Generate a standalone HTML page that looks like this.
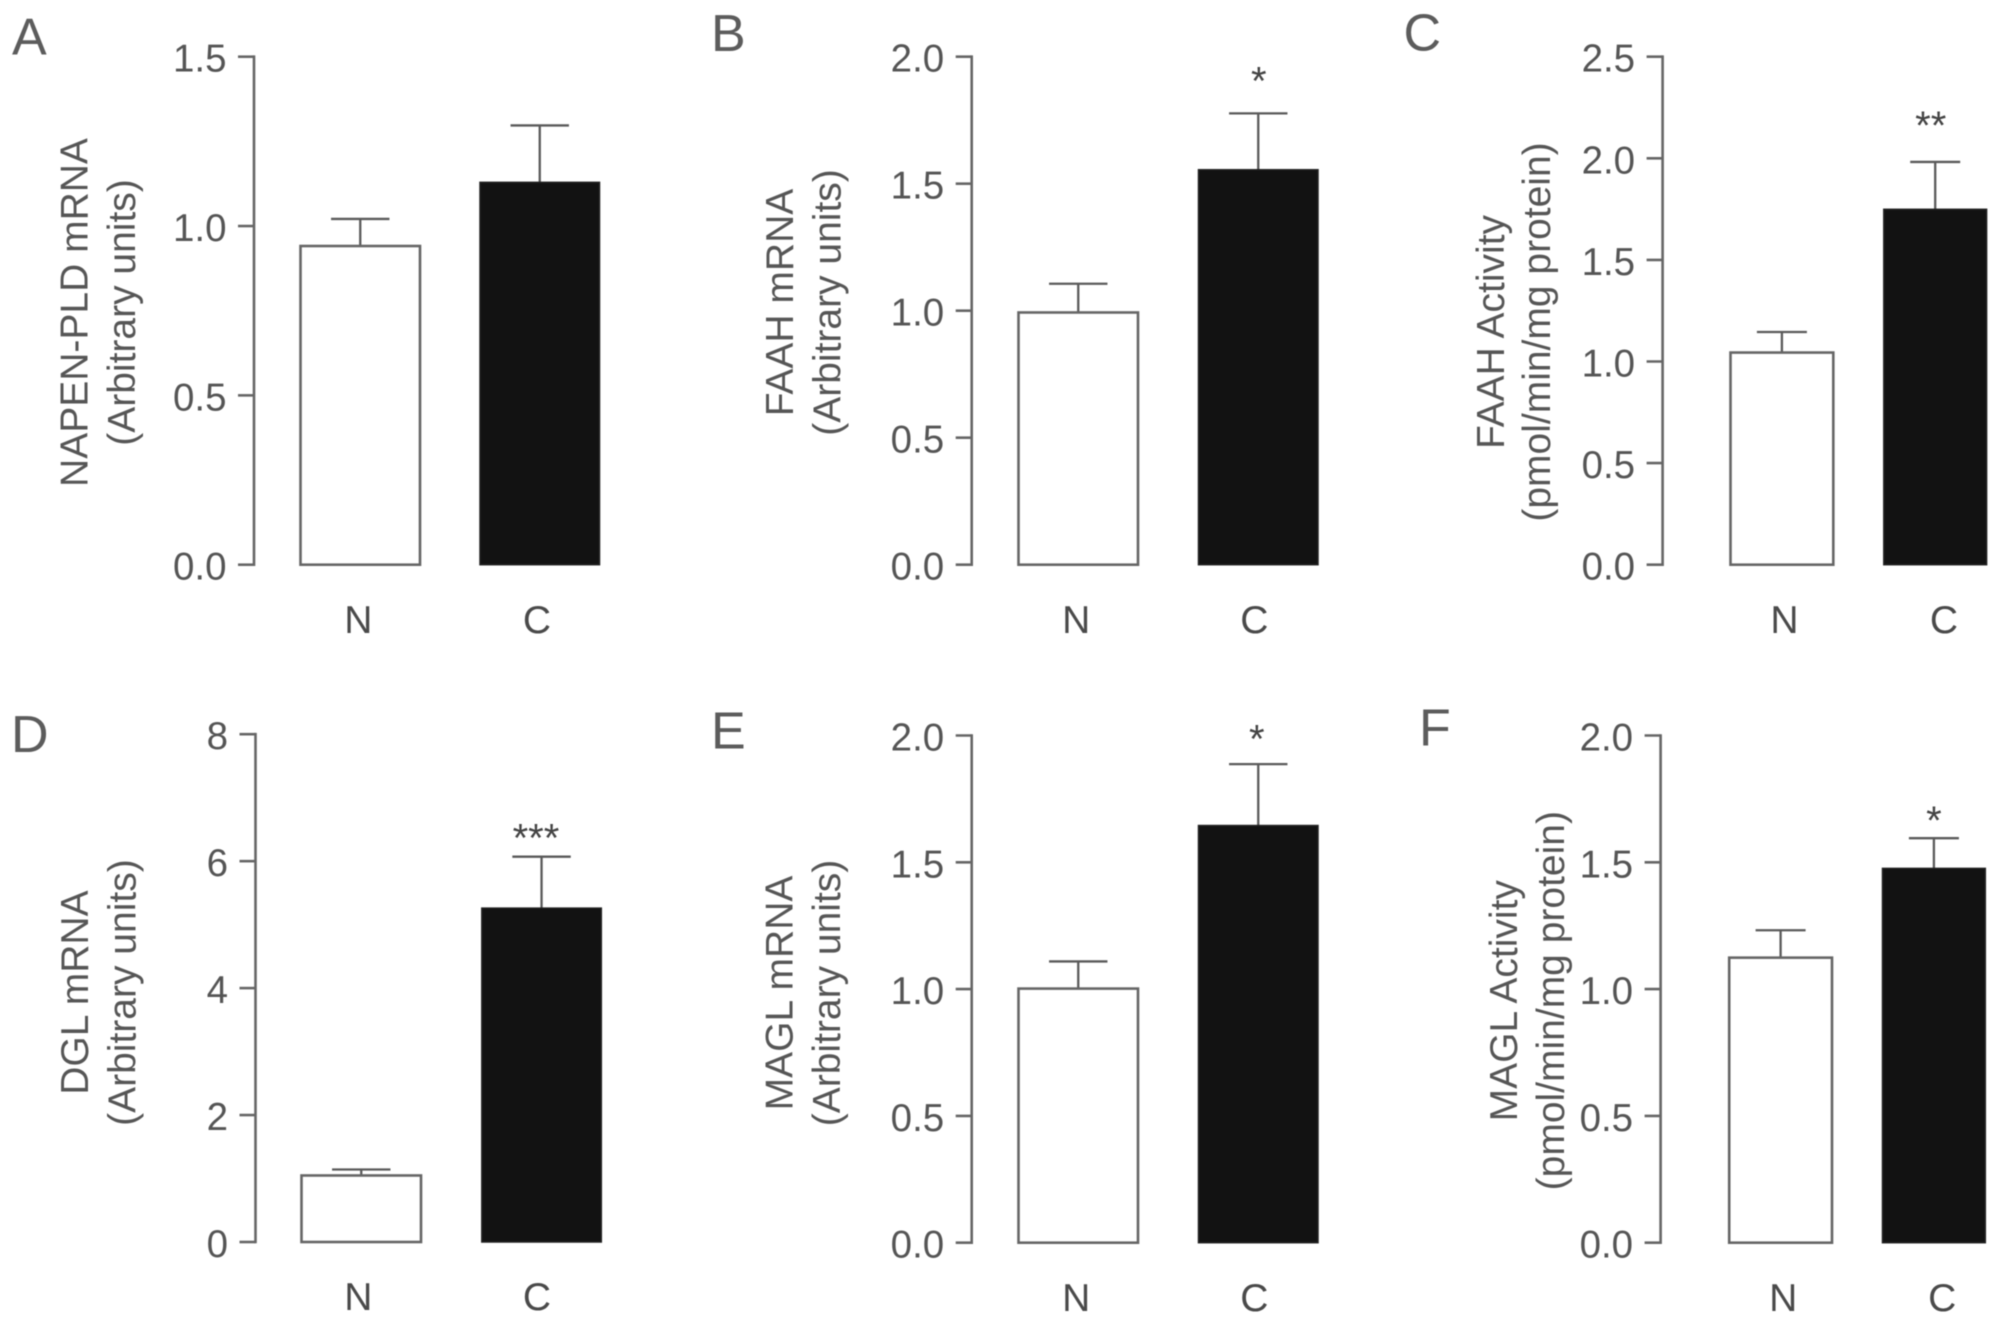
<!DOCTYPE html>
<html lang="en">
<head>
<meta charset="utf-8">
<title>Endocannabinoid enzyme bar charts</title>
<style>
  html, body { margin: 0; padding: 0; background: #fff; }
  svg { display: block; filter: blur(0.45px); }
  text { font-family: "Liberation Sans", Arial, sans-serif; fill: #565656; }
  .panel-letter { font-size: 52px; fill: #5c5c5c; }
  .axis-title { font-size: 39px; text-anchor: middle; }
  .tick-label { font-size: 38.5px; text-anchor: end; fill: #555; }
  .category-label { font-size: 39px; text-anchor: middle; fill: #4a4a4a; }
  .significance { font-size: 40px; text-anchor: middle; fill: #444; }
  .axis-line { stroke: #666; stroke-width: 2.6; fill: none; }
  .err-line { stroke: #5a5a5a; stroke-width: 2.3; fill: none; }
</style>
</head>
<body>
<svg id="figure" xmlns="http://www.w3.org/2000/svg" width="2008" height="1338" viewBox="0 0 2008 1338">
  <rect x="0" y="0" width="2008" height="1338" fill="#fff"/>

  <text class="panel-letter" x="12" y="54.600">A</text>
  <text class="panel-letter" x="711" y="51">B</text>
  <text class="panel-letter" x="1403.500" y="50.700">C</text>
  <text class="panel-letter" x="11" y="752">D</text>
  <text class="panel-letter" x="711" y="748.700">E</text>
  <text class="panel-letter" x="1419" y="745.700">F</text>

  <text class="axis-title" transform="translate(87.400 312.500) rotate(-90)">NAPEN-PLD mRNA</text>
  <text class="axis-title" transform="translate(135 312.500) rotate(-90)">(Arbitrary units)</text>
  <text class="axis-title" transform="translate(793 302.500) rotate(-90)">FAAH mRNA</text>
  <text class="axis-title" transform="translate(840.500 302.500) rotate(-90)">(Arbitrary units)</text>
  <text class="axis-title" transform="translate(1504 332) rotate(-90)">FAAH Activity</text>
  <text class="axis-title" transform="translate(1550 332) rotate(-90)">(pmol/min/mg protein)</text>
  <text class="axis-title" transform="translate(88.200 992.600) rotate(-90)">DGL mRNA</text>
  <text class="axis-title" transform="translate(135.500 992.600) rotate(-90)">(Arbitrary units)</text>
  <text class="axis-title" transform="translate(792.300 993) rotate(-90)">MAGL mRNA</text>
  <text class="axis-title" transform="translate(840 993) rotate(-90)">(Arbitrary units)</text>
  <text class="axis-title" transform="translate(1516.900 1000.700) rotate(-90)">MAGL Activity</text>
  <text class="axis-title" transform="translate(1563.800 1000.700) rotate(-90)">(pmol/min/mg protein)</text>
</svg>

<script>
// ---- Chart data ----
const categories = ['N', 'C'];

const panelAName = 'a';
const panelATicks = ['0.0', '0.5', '1.0', '1.5'];
const panelAMeans = [0.941, 1.129];
const panelAErrors = [0.080, 0.168];
const panelAStars = ['', ''];

const panelBName = 'b';
const panelBTicks = ['0.0', '0.5', '1.0', '1.5', '2.0'];
const panelBMeans = [0.993, 1.555];
const panelBErrors = [0.113, 0.222];
const panelBStars = ['', '*'];

const panelCName = 'c';
const panelCTicks = ['0.0', '0.5', '1.0', '1.5', '2.0', '2.5'];
const panelCMeans = [1.044, 1.749];
const panelCErrors = [0.101, 0.233];
const panelCStars = ['', '**'];

const panelDName = 'd';
const panelDTicks = ['0', '2', '4', '6', '8'];
const panelDMeans = [1.048, 5.26];
const panelDErrors = [0.094, 0.81];
const panelDStars = ['', '***'];

const panelEName = 'e';
const panelETicks = ['0.0', '0.5', '1.0', '1.5', '2.0'];
const panelEMeans = [1.002, 1.645];
const panelEErrors = [0.107, 0.242];
const panelEStars = ['', '*'];

const panelFName = 'f';
const panelFTicks = ['0.0', '0.5', '1.0', '1.5', '2.0'];
const panelFMeans = [1.124, 1.476];
const panelFErrors = [0.108, 0.119];
const panelFStars = ['', '*'];

// ---- Layout of each panel frame (not data) ----
const frameA = { axisX: 254, top: 56.7, bottom: 564.7, barLeft: [300.5, 480], barW: 119.5, capW: 58.4, labelX: [358.3, 537], labelY: 633, starDx: 0, starRise: 0 };
const frameB = { axisX: 971.7, top: 56.7, bottom: 564.7, barLeft: [1018.5, 1198.5], barW: 119.5, capW: 58.4, labelX: [1076.2, 1254.3], labelY: 633, starDx: 0.5, starRise: 37 };
const frameC = { axisX: 1662.6, top: 56.7, bottom: 564.7, barLeft: [1730.5, 1883.8], barW: 102.8, capW: 50, labelX: [1784.5, 1944], labelY: 633, starDx: -4.5, starRise: 41 };
const frameD = { axisX: 255.5, top: 734.2, bottom: 1242, barLeft: [301.5, 481.8], barW: 119.5, capW: 58.4, labelX: [358.3, 537], labelY: 1310, starDx: -5.6, starRise: 23.4 };
const frameE = { axisX: 971.7, top: 735.5, bottom: 1242.7, barLeft: [1018.5, 1198.5], barW: 119.5, capW: 58.4, labelX: [1076.2, 1254.3], labelY: 1311, starDx: -1.5, starRise: 29.8 };
const frameF = { axisX: 1660.6, top: 735.5, bottom: 1242.7, barLeft: [1729.2, 1882.5], barW: 102.8, capW: 50, labelX: [1783.2, 1942.2], labelY: 1311, starDx: 0, starRise: 22.2 };

const panels = [
  { name: panelAName, ticks: panelATicks, means: panelAMeans, errors: panelAErrors, stars: panelAStars, frame: frameA },
  { name: panelBName, ticks: panelBTicks, means: panelBMeans, errors: panelBErrors, stars: panelBStars, frame: frameB },
  { name: panelCName, ticks: panelCTicks, means: panelCMeans, errors: panelCErrors, stars: panelCStars, frame: frameC },
  { name: panelDName, ticks: panelDTicks, means: panelDMeans, errors: panelDErrors, stars: panelDStars, frame: frameD },
  { name: panelEName, ticks: panelETicks, means: panelEMeans, errors: panelEErrors, stars: panelEStars, frame: frameE },
  { name: panelFName, ticks: panelFTicks, means: panelFMeans, errors: panelFErrors, stars: panelFStars, frame: frameF }
];

const NS = 'http://www.w3.org/2000/svg';
const figure = document.getElementById('figure');
const TICK_LEN = 16;
const TICK_GAP = 27.5;
const TICK_BASELINE = 15;
const STAR_BASELINE = 18;

function shape(parent, tag, props, text) {
  const node = document.createElementNS(NS, tag);
  Object.keys(props).forEach(function (key) { node.setAttribute(key, props[key]); });
  if (text !== undefined) node.textContent = text;
  parent.appendChild(node);
  return node;
}

function yScale(frame, ticks) {
  const max = parseFloat(ticks[ticks.length - 1]);
  return function (value) {
    return frame.bottom - (value / max) * (frame.bottom - frame.top);
  };
}

panels.forEach(function (panel) {
  const frame = panel.frame;
  const y = yScale(frame, panel.ticks);

  const group = shape(figure, 'g', {});
  
  

  const axis = shape(group, 'path', {
    class: 'axis-line',
    d: 'M' + frame.axisX + ' ' + (frame.top - 1.3) + 'V' + (frame.bottom + 1.3)
  });
  
  

  panel.ticks.forEach(function (label) {
    const value = parseFloat(label);
    const tick = shape(group, 'line', {
      class: 'axis-line',
      x1: frame.axisX - TICK_LEN, x2: frame.axisX, y1: y(value), y2: y(value)
    });
    
    

    const tickText = shape(group, 'text', {
      class: 'tick-label',
      x: frame.axisX - TICK_GAP, y: y(value) + TICK_BASELINE
    }, label);
    
    
  });

  categories.forEach(function (category, i) {
    const key = category.toLowerCase();
    const left = frame.barLeft[i];
    const centre = left + frame.barW / 2;
    const meanY = y(panel.means[i]);
    const errY = y(panel.means[i] + panel.errors[i]);

    const stem = shape(group, 'line', { class: 'err-line', x1: centre, x2: centre, y1: meanY, y2: errY });
    
    

    const cap = shape(group, 'line', {
      class: 'err-line',
      x1: centre - frame.capW / 2, x2: centre + frame.capW / 2, y1: errY, y2: errY
    });
    
    

    const bar = shape(group, 'rect', {
      x: left, y: meanY, width: frame.barW, height: frame.bottom - meanY,
      fill: i === 0 ? '#fff' : '#121212',
      stroke: i === 0 ? '#666' : '#222',
      'stroke-width': i === 0 ? 2.6 : 1.5
    });
    
    

    const catText = shape(group, 'text', {
      class: 'category-label',
      x: frame.labelX[i], y: frame.labelY
    }, category);
    
    

    if (panel.stars[i]) {
      const star = shape(group, 'text', {
        class: 'significance',
        x: centre + frame.starDx,
        y: errY - frame.starRise + STAR_BASELINE
      }, panel.stars[i]);
      
      
    }
  });
});
</script>
</body>
</html>
